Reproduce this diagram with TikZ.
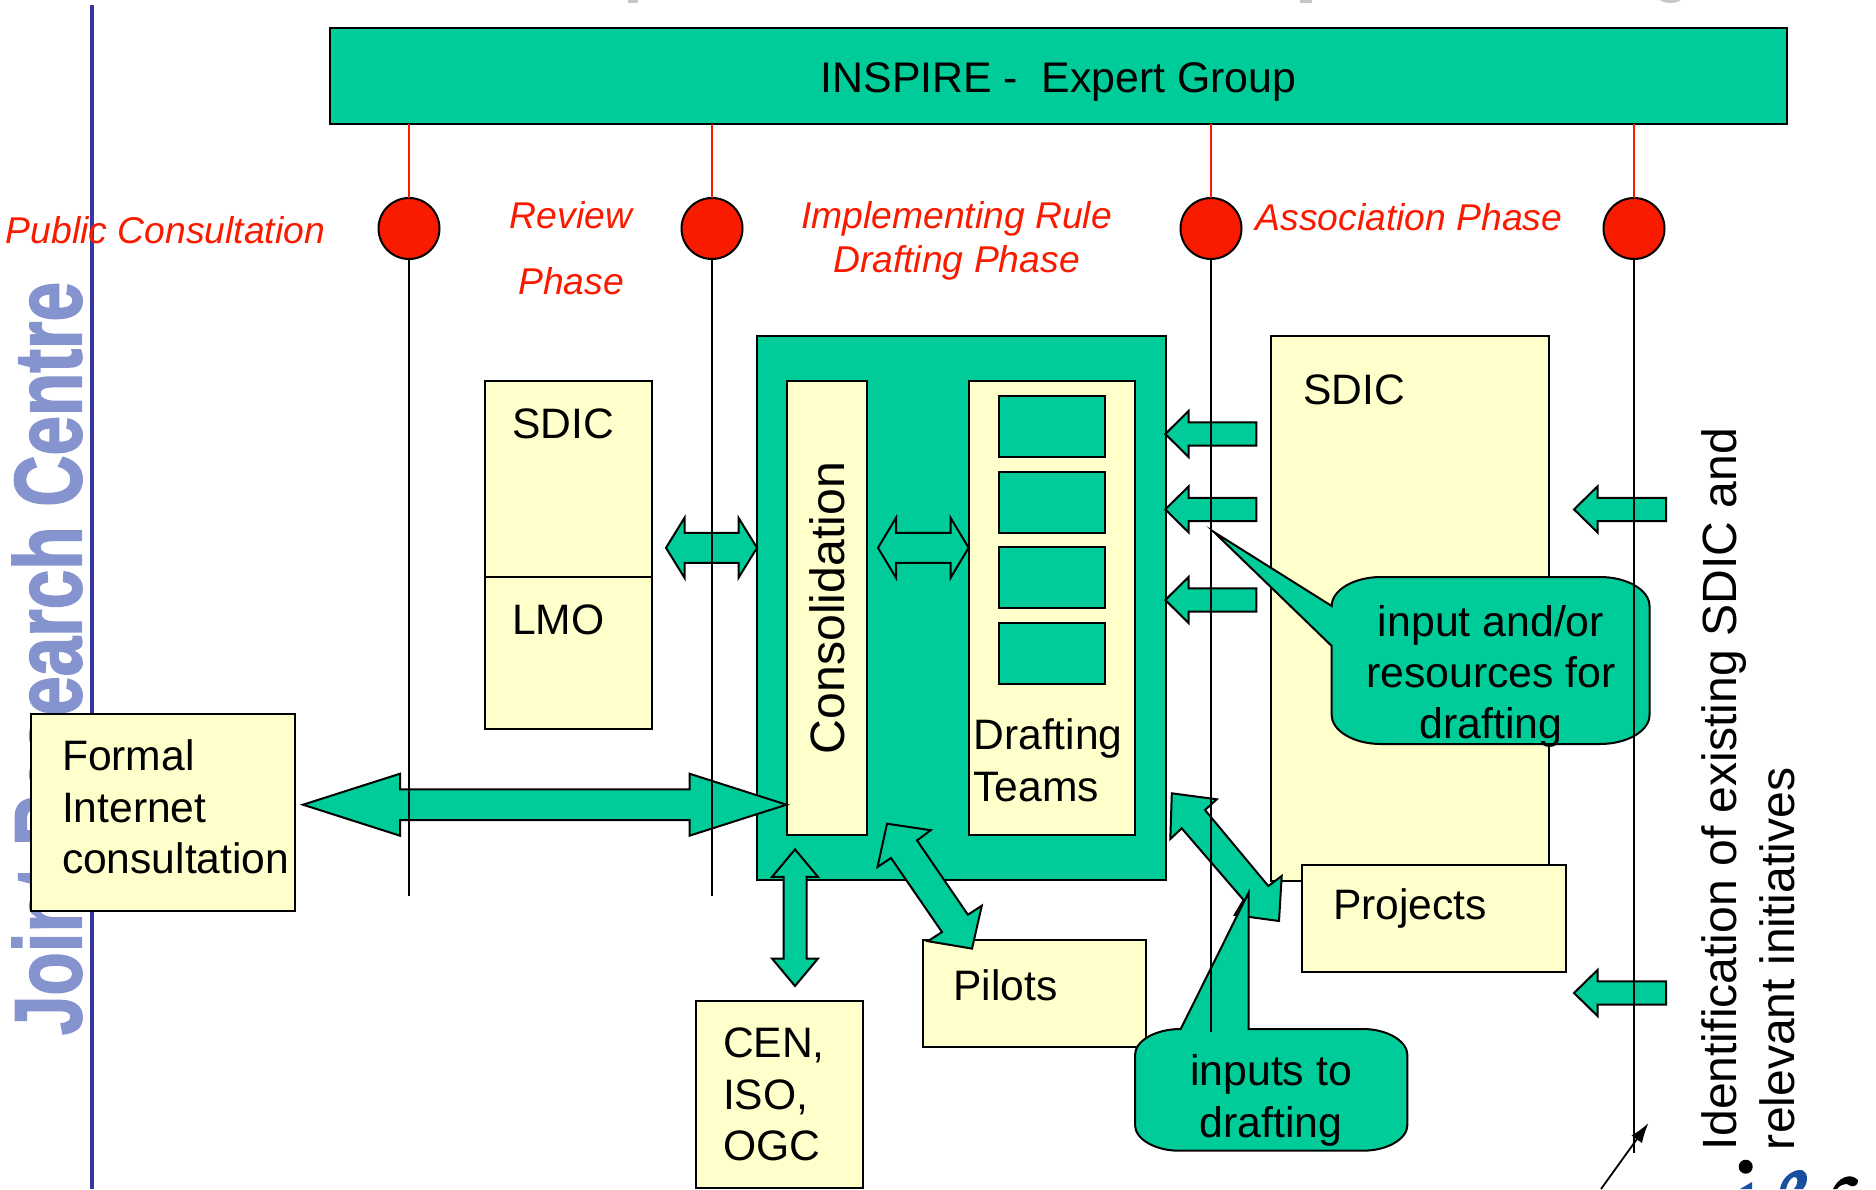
\documentclass[tikz,border=0pt]{standalone}
\usepackage{fontspec}
\usepackage{graphicx}
\setmainfont{Liberation Sans}
\newfontfamily\wmfont{Liberation Sans}[BoldFeatures={FakeBold=2}]
\usetikzlibrary{calc,arrows.meta}
\definecolor{jgreen}{HTML}{00CC99}
\definecolor{jyellow}{HTML}{FFFFCC}
\definecolor{jred}{HTML}{F81B00}
\definecolor{jblue}{HTML}{3636A0}
\definecolor{jwater}{HTML}{8593CF}
\definecolor{jlogo}{HTML}{1A4F9F}
\tikzset{
  rectbox/.style={draw=black,line width=2pt,inner sep=0pt,outer sep=0pt,anchor=north west},
  greenbox/.style={rectbox,fill=jgreen},
  yellowbox/.style={rectbox,fill=jyellow},
  phasedot/.style={circle,draw=black,line width=2pt,fill=jred,inner sep=0pt,outer sep=0pt,minimum size=61pt},
  blockarrow/.style={draw=black,line width=2pt,fill=jgreen,line join=miter},
  callout/.style={draw=black,line width=2pt,fill=jgreen},
  blabel/.style={inner sep=0pt,outer sep=0pt,anchor=base west,font=\fontsize{42.6}{51.5}\selectfont,align=left},
  clabel/.style={inner sep=0pt,outer sep=0pt,anchor=base,font=\fontsize{42.8}{51}\selectfont,align=center},
  rlabel/.style={inner sep=0pt,outer sep=0pt,anchor=base,text=jred,font=\fontsize{37.3}{44}\selectfont\itshape,align=center},
  redline/.style={draw=jred,line width=1.5pt},
  phaseline/.style={draw=black,line width=2pt},
}
% A, B, head length, head half width, shaft half width
\newcommand\dblblock[5]{%
  \coordinate (ha) at ($(#1)!#3!(#2)$);
  \coordinate (hb) at ($(#2)!#3!(#1)$);
  \draw[blockarrow] (#1) -- ($(ha)!#4!90:(#1)$) -- ($(ha)!#5!90:(#1)$) -- ($(hb)!#5!-90:(#2)$) -- ($(hb)!#4!-90:(#2)$) -- (#2)
    -- ($(hb)!#4!90:(#2)$) -- ($(hb)!#5!90:(#2)$) -- ($(ha)!#5!-90:(#1)$) -- ($(ha)!#4!-90:(#1)$) -- cycle;
}
% tip, tail, head length, head half width, shaft half width
\newcommand\oneblock[5]{%
  \coordinate (ha) at ($(#1)!#3!(#2)$);
  \draw[blockarrow] (#1) -- ($(ha)!#4!90:(#1)$) -- ($(ha)!#5!90:(#1)$) -- ($(#2)!#5!90:(#1)$)
    -- ($(#2)!#5!-90:(#1)$) -- ($(ha)!#5!-90:(#1)$) -- ($(ha)!#4!-90:(#1)$) -- cycle;
}
\begin{document}
\begin{tikzpicture}[x=1pt,y=-1pt]
\useasboundingbox (0,0) rectangle (1876,1189);
\fill[white] (0,0) rectangle (1876,1189);

% cut-off fragments at the top
\fill[black!22] (628,0) rectangle (638,2.5);
\fill[black!22] (1300,0) rectangle (1312,2.5);
\fill[black!22] (1660,0) .. controls (1665,4) and (1676,4) .. (1681,0) -- cycle;

% watermark and margin line
\node[rotate=90,anchor=south west,inner sep=0pt,outer sep=0pt,text=jwater] (watermark) at (82,1035)
  {\resizebox{753pt}{69pt}{\wmfont\bfseries Joint Research Centre}};
\coordinate (bluetop) at (92,5);
\coordinate (bluebot) at (92,1189);
\draw[jblue,line width=4pt] (bluetop) -- (bluebot);

% header and phase dots
\node[greenbox,minimum width=1457pt,minimum height=96pt,font=\fontsize{42.8}{50}\selectfont] (bar) at (330,28) {\raisebox{-16pt}[0pt][0pt]{INSPIRE -\ \ Expert Group}};
\node[phasedot] (c1) at (409,228.5) {};
\node[phasedot] (c2) at (712,228.5) {};
\node[phasedot] (c3) at (1211,228.5) {};
\node[phasedot] (c4) at (1634,228.5) {};
\draw[redline] (bar.south -| c1) -- (c1.north);
\draw[redline] (bar.south -| c2) -- (c2.north);
\draw[redline] (bar.south -| c3) -- (c3.north);
\draw[redline] (bar.south -| c4) -- (c4.north);

% phase labels
\node[rlabel] (lblpublic) at (165.5,243.5) {Public Consultation};
\node[rlabel,font=\fontsize{37.3}{66.3}\selectfont\itshape] (lblreview) at (571,294.5) {Review\\Phase};
\node[rlabel] (lblrule) at (956.5,272) {Implementing Rule\\Drafting Phase};
\node[rlabel] (lblassoc) at (1409,230) {Association Phase};

% review boxes
\node[yellowbox,minimum width=167pt,minimum height=196pt] (sdicA) at (485,381) {};
\node[yellowbox,minimum width=167pt,minimum height=152pt] (lmo) at (485,577) {};
\node[blabel] (sdicAtxt) at (512,438.5) {SDIC};
\node[blabel] (lmotxt) at (512,634) {LMO};

% drafting block
\node[greenbox,minimum width=409pt,minimum height=544pt] (main) at (757,336) {};
\node[yellowbox,minimum width=79.5pt,minimum height=454pt] (consol) at (787,381) {};
\node[yellowbox,minimum width=166.5pt,minimum height=454pt] (draft) at (968.6,381) {};
\node[greenbox,minimum width=106.5pt,minimum height=61pt] (t1) at (998.6,396) {};
\node[greenbox,minimum width=106.5pt,minimum height=61pt] (t2) at (998.6,472) {};
\node[greenbox,minimum width=106.5pt,minimum height=61pt] (t3) at (998.6,547) {};
\node[greenbox,minimum width=106.5pt,minimum height=61pt] (t4) at (998.6,623) {};
\node[inner sep=0pt,outer sep=0pt,anchor=base,rotate=90,font=\fontsize{48.2}{50}\selectfont] (consoltxt) at (844.5,608) {Consolidation};
\node[blabel,font=\fontsize{42.6}{52}\selectfont] (drafttxt) at (973.5,801.5) {Drafting\\Teams};

% right-hand boxes
\node[yellowbox,minimum width=278pt,minimum height=545pt] (sdicB) at (1271,336) {};
\node[blabel] (sdicBtxt) at (1303,404) {SDIC};
\node[yellowbox,minimum width=264.5pt,minimum height=106.7pt] (proj) at (1301.5,865) {};
\node[blabel] (projtxt) at (1333,919) {Projects};

% lower boxes
\node[yellowbox,minimum width=223pt,minimum height=106.7pt] (pilots) at (923,940) {};
\node[blabel] (pilotstxt) at (953.5,1000) {Pilots};
\node[yellowbox,minimum width=167pt,minimum height=187.5pt] (cen) at (696.3,1000.8) {};
\node[blabel] (centxt) at (723,1160.5) {CEN,\\ISO,\\OGC};
\node[yellowbox,minimum width=264pt,minimum height=197.5pt] (formal) at (31,713.5) {};
\node[blabel] (formaltxt) at (62,873.5) {Formal\\Internet\\consultation};

% block arrows
\coordinate (bigL) at (303,804.7);
\coordinate (bigR) at (786.5,804.7);
\dblblock{bigL}{bigR}{97pt}{31pt}{15.4pt}
\coordinate (revL) at (666,547.8);
\coordinate (revR) at (757,547.8);
\dblblock{revL}{revR}{18.5pt}{30pt}{15pt}
\coordinate (inL) at (878,547.8);
\coordinate (inR) at (968.6,547.8);
\dblblock{inL}{inR}{18pt}{30pt}{15pt}
\coordinate (cenT) at (795,849.4);
\coordinate (cenB) at (795,986);
\dblblock{cenT}{cenB}{27.5pt}{23pt}{11.5pt}
\coordinate (a1tip) at (1165.3,434);   \coordinate (a1tail) at (1256.4,434);
\coordinate (a2tip) at (1165.3,509.4); \coordinate (a2tail) at (1256.4,509.4);
\coordinate (a3tip) at (1165.3,600);   \coordinate (a3tail) at (1256.4,600);
\coordinate (a4tip) at (1574,509.4);   \coordinate (a4tail) at (1666,509.4);
\coordinate (a5tip) at (1574,993);     \coordinate (a5tail) at (1666,993);
\oneblock{a1tip}{a1tail}{23.3pt}{23pt}{11.6pt}
\oneblock{a2tip}{a2tail}{23.3pt}{23pt}{11.6pt}
\oneblock{a3tip}{a3tail}{23.3pt}{23pt}{11.6pt}
\oneblock{a4tip}{a4tail}{23.5pt}{23pt}{11.6pt}
\oneblock{a5tip}{a5tail}{23.5pt}{23pt}{11.6pt}
\draw[blockarrow] (887,823.7) -- (930.7,830.2) -- (917,840.4) -- (967.9,914.7) -- (981.8,905.7) -- (972,948.6)
  -- (927.9,941.2) -- (942,932) -- (891,858) -- (877.5,867) -- cycle;
\draw[blockarrow] (1171.8,793.3) -- (1216.8,799.3) -- (1205,810) -- (1268.3,886) -- (1281.7,876) -- (1279,921)
  -- (1234.7,915) -- (1243.6,900) -- (1181.7,828.3) -- (1170.3,839) -- cycle;

% callouts
\draw[callout] (1213.9,532) -- (1331.7,606) .. controls (1331.7,590) and (1354,577) .. (1381,577) -- (1600,577)
  .. controls (1627,577) and (1649.5,590) .. (1649.5,606) -- (1649.5,715)
  .. controls (1649.5,731) and (1627,744) .. (1600,744) -- (1381,744)
  .. controls (1354,744) and (1331.7,731) .. (1331.7,715) -- (1331.7,646) -- cycle;
\node[clabel] (inputtxt) at (1491,738) {input and/or\\resources for\\drafting};
\draw[callout] (1248.5,892.7) -- (1248.5,1029) -- (1363,1029)
  .. controls (1387,1029) and (1407.4,1041) .. (1407.4,1055) -- (1407.4,1125)
  .. controls (1407.4,1139) and (1387,1150.7) .. (1363,1150.7) -- (1179,1150.7)
  .. controls (1155,1150.7) and (1135,1139) .. (1135,1125) -- (1135,1055)
  .. controls (1135,1041) and (1155,1029) .. (1180.7,1029) -- cycle;
\node[clabel,font=\fontsize{42.8}{51.5}\selectfont] (inputstxt) at (1271,1137) {inputs to\\drafting};

% phase lines, over everything else
\coordinate (c1end) at (c1.south |- 0,896);
\coordinate (c2end) at (c2.south |- 0,896);
\coordinate (c3end) at (c3.south |- 0,1032);
\coordinate (c4end) at (c4.south |- 0,1152.7);
\draw[phaseline] (c1.south) -- (c1end);
\draw[phaseline] (c2.south) -- (c2end);
\draw[phaseline] (c3.south) -- (c3end);
\draw[phaseline] (c4.south) -- (c4end);

% pointer at the bottom
\coordinate (ptrA) at (1601,1189);
\coordinate (ptrB) at (1648.5,1123);
\draw[line width=1.8pt,-{Latex[length=20pt,width=13pt]}] (ptrA) -- (ptrB);

% rotated side text
\node[blabel,rotate=90,font=\fontsize{48.1}{58.6}\selectfont] (sidetxt) at (1794.6,1150) {Identification of existing SDIC and\\relevant initiatives};

% cut-off logo
\fill[black] (1745.7,1166.7) circle[radius=7pt];
\fill[jlogo] (1740,1189) -- (1752,1182) -- (1752,1189) -- cycle;
\fill[jlogo] (1780,1189) .. controls (1782,1177) and (1793,1169) .. (1802,1170)
  .. controls (1808,1172) and (1809,1182) .. (1803,1189) -- (1794,1189)
  .. controls (1799,1183) and (1798,1176) .. (1794,1177) .. controls (1790,1178) and (1787,1184) .. (1786,1189) -- cycle;
\fill[black] (1833,1189) .. controls (1838,1178) and (1850,1172) .. (1858,1180)
  .. controls (1858,1187) and (1852,1188) .. (1847,1184) .. controls (1843,1184) and (1839,1186) .. (1837,1189) -- cycle;
\end{tikzpicture}
\end{document}
